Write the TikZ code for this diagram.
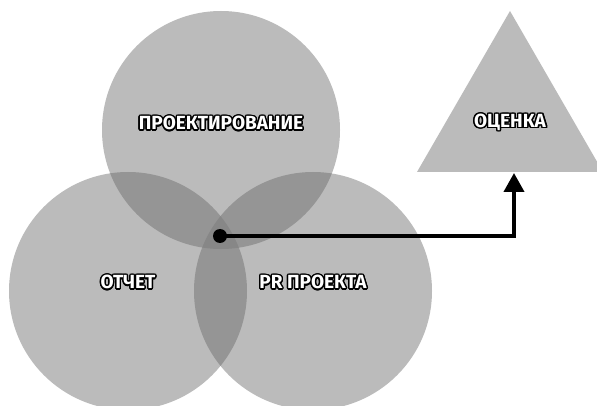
\documentclass[tikz,border=0pt]{standalone}
\usepackage{fontspec}
\setmainfont{Fira Sans}
\usepackage{contour}
\contourlength{1.4pt}
\contournumber{16}
\usetikzlibrary{arrows.meta}
\definecolor{cone}{HTML}{BBBBBB}
\definecolor{ctwo}{HTML}{959595}
\definecolor{cthree}{HTML}{878787}
\begin{document}
\begin{tikzpicture}[x=1pt,y=-1pt,
  circ/.style={circle, fill=cone, minimum size=238pt, inner sep=0pt},
  lab/.style={text=white, font=\bfseries\fontsize{19}{19}\selectfont, inner sep=0pt},
  conn/.style={line width=4pt, -{Triangle[width=20pt,length=19pt]}}]
\useasboundingbox (0,0) rectangle (597,406);
\fill[white] (0,0) rectangle (597,406);
% circles
\node[circ] (topc) at (221,130) {};
\node[circ] (leftc) at (128,291) {};
\node[circ] (rightc) at (313,291) {};
% pairwise overlaps
\begin{scope}
  \clip (221,130) circle (119pt);
  \fill[ctwo] (128,291) circle (119pt);
  \fill[ctwo] (313,291) circle (119pt);
\end{scope}
\begin{scope}
  \clip (128,291) circle (119pt);
  \fill[ctwo] (313,291) circle (119pt);
  \clip (313,291) circle (119pt);
  \fill[cthree] (221,130) circle (119pt);
\end{scope}
% triangle
\fill[cone] (510,11) -- (603,172) -- (417,172) -- cycle;
% labels
\node[lab] (ltop) at (221,124) {\contour{black}{ПРОЕКТИРОВАНИЕ}};
\node[lab] (lleft) at (128,283) {\contour{black}{ОТЧЕТ}};
\node[lab] (lright) at (313,283) {\contour{black}{PR ПРОЕКТА}};
\node[lab] (ltri) at (510,123) {\contour{black}{ОЦЕНКА}};
% connector
\node[circle, fill=black, minimum size=14pt, inner sep=0pt] (dot) at (220,236) {};
\coordinate (tribase) at (514,173);
\draw[conn] (dot.center) -| (tribase);
\end{tikzpicture}
\end{document}
